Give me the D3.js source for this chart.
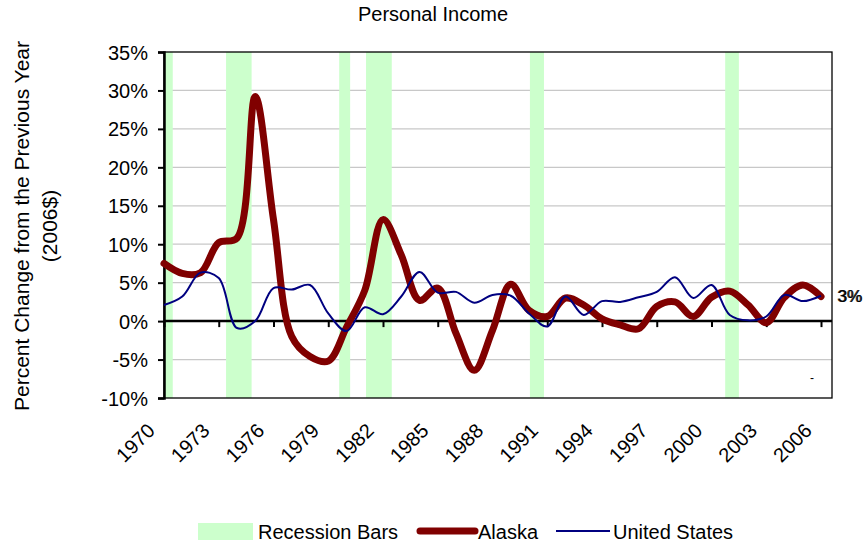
<!DOCTYPE html>
<html>
<head>
<meta charset="utf-8">
<script src="https://cdn.jsdelivr.net/npm/d3@7"></script>
<style>
  html, body { margin: 0; padding: 0; background: #fff; }
  svg { display: block; font-family: Arial, "Liberation Sans", sans-serif; }
</style>
</head>
<body>
<svg id="chart" width="863" height="546"></svg>
<script>
// Annual percent change in real personal income (2006$)
const years = d3.range(1970, 2007);
const alaska = [7.5, 6.2, 6.3, 10.2, 10.8, 29.2, 13.2, -2.0, -4.6, -5.2,
                -0.8, 4.0, 13.2, 8.6, 2.7, 4.3, -1.6, -6.4, -1.2, 4.8,
                1.4, 0.6, 3.0, 2.1, 0.3, -0.5, -1.0, 1.9, 2.5, 0.6,
                3.1, 3.9, 2.1, -0.2, 3.1, 4.7, 3.2];
const unitedStates = [2.1, 3.2, 6.3, 5.6, -0.9, 0.0, 4.3, 4.1, 4.7, 1.0,
                      -1.3, 1.8, 0.9, 3.2, 6.4, 3.7, 3.8, 2.4, 3.4, 3.3,
                      1.0, -0.7, 3.2, 0.8, 2.6, 2.5, 3.1, 3.8, 5.7, 3.0,
                      4.7, 0.8, 0.1, 0.6, 3.4, 2.6, 3.3];
// Recession periods (fractional years)
const recessionStart = [1970.0, 1973.4, 1979.6, 1981.07, 1990.05, 2000.75];
const recessionEnd   = [1970.48, 1974.8, 1980.2, 1982.48, 1990.82, 2001.5];
const yTicks = [-10, -5, 0, 5, 10, 15, 20, 25, 30, 35];
const xTickYears = d3.range(1970, 2007, 3);
const seriesEndLabel = "3%";

const svg = d3.select("#chart");
const plot = { left: 164, right: 832, top: 52, bottom: 398 };

const x = d3.scaleLinear().domain([1970, 2006]).range([164, 821]);
const y = d3.scaleLinear().domain([-10, 35]).range([plot.bottom, plot.top]);

// Title
svg.append("text")
  .attr("x", 433).attr("y", 21)
  .attr("text-anchor", "middle")
  .attr("font-size", 20)
  .text("Personal Income");

// Gridlines
svg.append("g").selectAll("line")
  .data(yTicks.filter(d => d !== 0 && d !== -10 && d !== 35))
  .join("line")
  .attr("x1", plot.left).attr("x2", plot.right)
  .attr("y1", d => y(d)).attr("y2", d => y(d))
  .attr("stroke", "#c8c8c8").attr("stroke-width", 1.2);

// Recession bars
svg.append("g").selectAll("rect")
  .data(recessionStart.map((s, i) => [s, recessionEnd[i]]))
  .join("rect")
  .attr("x", d => x(d[0]))
  .attr("width", d => x(d[1]) - x(d[0]))
  .attr("y", plot.top)
  .attr("height", plot.bottom - plot.top)
  .attr("fill", "#ccffcc");

// Plot frame
svg.append("rect")
  .attr("x", plot.left).attr("y", plot.top)
  .attr("width", plot.right - plot.left).attr("height", plot.bottom - plot.top)
  .attr("fill", "none").attr("stroke", "#000").attr("stroke-width", 1.3);

// Y axis
const yAxis = d3.axisLeft(y).tickValues(yTicks).tickSize(6).tickPadding(10)
  .tickFormat(d => d + "%");
const gy = svg.append("g").attr("transform", `translate(${plot.left},0)`).call(yAxis);
gy.select(".domain").attr("stroke", "#000").attr("stroke-width", 2.5);
gy.selectAll(".tick line").attr("stroke", "#000").attr("stroke-width", 2);
gy.selectAll(".tick text")
  .attr("font-size", 20).attr("font-family", "Arial, 'Liberation Sans', sans-serif")
  .attr("fill", "#000").attr("dy", "0.35em");

// X axis along the zero line
const xAxis = d3.axisBottom(x).tickValues(xTickYears).tickSize(6).tickFormat("");
const gx = svg.append("g").attr("transform", `translate(0,${y(0)})`).call(xAxis);
gx.select(".domain").attr("d", `M${plot.left},0H${plot.right}`)
  .attr("stroke", "#000").attr("stroke-width", 2.5);
gx.selectAll(".tick line").attr("stroke", "#000").attr("stroke-width", 2);

// Year labels, rotated
svg.append("g").selectAll("text")
  .data(xTickYears)
  .join("text")
  .attr("transform", d => `translate(${x(d) - 8},432) rotate(-45)`)
  .attr("text-anchor", "end")
  .attr("font-size", 20)
  .text(d => d);

// Y axis title
const yTitle = svg.append("text")
  .attr("transform", "translate(29,226) rotate(-90)")
  .attr("text-anchor", "middle")
  .attr("font-size", 21);
yTitle.append("tspan").attr("x", 0).attr("dy", 0).text("Percent Change from the Previous Year");
yTitle.append("tspan").attr("x", 0).attr("dy", 28).text("(2006$)");

// Series lines (smoothed)
const line = (vals) => d3.line()
  .x((d, i) => x(years[i]))
  .y(d => y(d))
  .curve(d3.curveCatmullRom.alpha(0.5))(vals);

svg.append("path")
  .attr("d", line(alaska))
  .attr("fill", "none").attr("stroke", "#800000")
  .attr("stroke-width", 7).attr("stroke-linecap", "round").attr("stroke-linejoin", "round");

svg.append("path")
  .attr("d", line(unitedStates))
  .attr("fill", "none").attr("stroke", "#000080").attr("stroke-width", 2);

// End-of-series value labels
svg.append("text").attr("x", 837).attr("y", 302).attr("font-size", 17)
  .attr("fill", "#333").text(seriesEndLabel);
svg.append("text").attr("x", 838).attr("y", 302).attr("font-size", 17)
  .attr("fill", "#000").text(seriesEndLabel);
svg.append("text").attr("x", 812).attr("y", 382).attr("font-size", 12)
  .attr("text-anchor", "middle").text("-");

// Legend
const legend = svg.append("g").attr("font-size", 20);
legend.append("rect").attr("x", 198).attr("y", 523).attr("width", 55).attr("height", 17)
  .attr("fill", "#ccffcc");
legend.append("text").attr("x", 258).attr("y", 539).text("Recession Bars");
legend.append("line").attr("x1", 420).attr("x2", 475).attr("y1", 531).attr("y2", 531)
  .attr("stroke", "#800000").attr("stroke-width", 7).attr("stroke-linecap", "round");
legend.append("text").attr("x", 478).attr("y", 539).text("Alaska");
legend.append("line").attr("x1", 556).attr("x2", 610).attr("y1", 531).attr("y2", 531)
  .attr("stroke", "#000080").attr("stroke-width", 2);
legend.append("text").attr("x", 613).attr("y", 539).text("United States");
</script>
</body>
</html>
